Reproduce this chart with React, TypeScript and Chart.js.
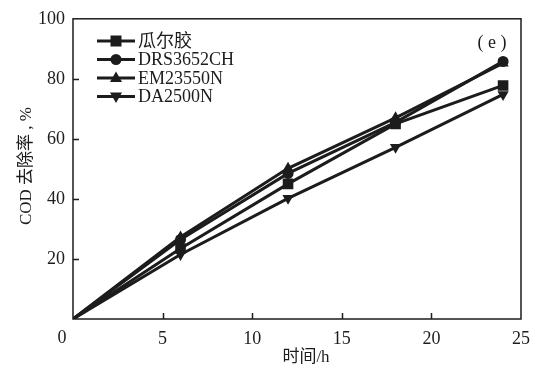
import React, { useEffect, useRef } from "react";
import { Chart, registerables } from "chart.js";

Chart.register(...registerables);

const hours = [0, 6, 12, 18, 24];
const guar = [0, 23.5, 45, 65, 77.8];
const drs = [0, 26.5, 48.5, 65.5, 85.8];
const em = [0, 27.3, 50.2, 67, 85.2];
const da = [0, 21.5, 40.2, 57.2, 74.8];
const seriesNames = ["瓜尔胶", "DRS3652CH", "EM23550N", "DA2500N"];
const xTicks = [0, 5, 10, 15, 20, 25];
const yTicks = [0, 20, 40, 60, 80, 100];

const INK = "#1c1c1c";
const SERIF = "'Liberation Serif', 'DejaVu Serif', 'Noto Sans CJK SC', serif";
const CJK = "'Liberation Serif', 'Noto Sans CJK SC', serif";

const styles = [
  { pointStyle: "rect", radius: 7.5, rotation: 0 },
  { pointStyle: "circle", radius: 5.5, rotation: 0 },
  { pointStyle: "triangle", radius: 6.5, rotation: 0 },
  { pointStyle: "triangle", radius: 6.5, rotation: 180 },
];

function drawMarker(ctx: CanvasRenderingContext2D, kind: number, x: number, y: number) {
  ctx.beginPath();
  if (kind === 0) {
    ctx.rect(x - 5.5, y - 5.5, 11, 11);
  } else if (kind === 1) {
    ctx.arc(x, y, 5.5, 0, Math.PI * 2);
  } else if (kind === 2) {
    ctx.moveTo(x, y - 6.5);
    ctx.lineTo(x + 6, y + 4);
    ctx.lineTo(x - 6, y + 4);
    ctx.closePath();
  } else {
    ctx.moveTo(x, y + 6.5);
    ctx.lineTo(x + 6, y - 4);
    ctx.lineTo(x - 6, y - 4);
    ctx.closePath();
  }
  ctx.fill();
}

const framePlugin = {
  id: "frame",
  beforeDatasetsDraw(chart: any) {
    const { ctx, chartArea, scales } = chart;
    const { left, right, top, bottom } = chartArea;
    ctx.save();
    ctx.strokeStyle = INK;
    ctx.lineWidth = 1.5;
    ctx.strokeRect(left, top, right - left, bottom - top);
    ctx.beginPath();
    xTicks.forEach((v) => {
      if (v === 0 || v === 25) return;
      const px = Math.round(scales.x.getPixelForValue(v)) + 0.5;
      ctx.moveTo(px, bottom);
      ctx.lineTo(px, bottom - 6);
    });
    yTicks.forEach((v) => {
      if (v === 0 || v === 100) return;
      const py = Math.round(scales.y.getPixelForValue(v)) + 0.5;
      ctx.moveTo(left, py);
      ctx.lineTo(left + 6, py);
    });
    ctx.stroke();
    ctx.restore();
  },
  afterDraw(chart: any) {
    const { ctx, chartArea, scales } = chart;
    const { left, right, top } = chartArea;
    ctx.save();
    ctx.fillStyle = INK;
    ctx.strokeStyle = INK;
    // origin label
    ctx.font = `18px ${SERIF}`;
    ctx.textAlign = "center";
    ctx.textBaseline = "middle";
    ctx.fillText("0", scales.x.getPixelForValue(0) - 11, 338);
    // axis titles
    ctx.font = `17px ${CJK}`;
    ctx.fillText("时间/h", (left + right) / 2 + 9, 358);
    ctx.save();
    ctx.translate(27, 166);
    ctx.rotate(-Math.PI / 2);
    ctx.fillText("COD 去除率 , %", 0, 0);
    ctx.restore();
    // panel label
    ctx.font = `18px ${SERIF}`;
    ctx.fillText("( e )", right - 29, top + 24);
    // legend
    const rows = [41, 59.5, 78, 96.5];
    ctx.textAlign = "left";
    ctx.font = `18px ${CJK}`;
    seriesNames.forEach((name, i) => {
      const y = rows[i];
      ctx.lineWidth = 3;
      ctx.beginPath();
      ctx.moveTo(97, y);
      ctx.lineTo(135, y);
      ctx.stroke();
      drawMarker(ctx, i, 116, y);
      ctx.fillText(name, 138, y + 1);
    });
    ctx.restore();
  },
};

export default function App() {
  const ref = useRef<HTMLCanvasElement>(null);
  useEffect(() => {
    if (!ref.current) return;
    const all = [guar, drs, em, da];
    const chart = new Chart(ref.current, {
      type: "line",
      data: {
        datasets: all.map((vals, i) => ({
          label: seriesNames[i],
          data: hours.map((h, j) => ({ x: h, y: vals[j] })),
          borderColor: INK,
          backgroundColor: INK,
          borderWidth: 3,
          pointStyle: styles[i].pointStyle as any,
          pointRadius: hours.map((h) => (h === 0 ? 0 : styles[i].radius)),
          pointRotation: styles[i].rotation,
          pointBorderWidth: 0,
          tension: 0,
        })),
      },
      options: {
        responsive: false,
        animation: false,
        layout: { padding: { top: 17, right: 12, left: 0, bottom: 0 } },
        plugins: { legend: { display: false }, tooltip: { enabled: false } },
        scales: {
          x: {
            type: "linear",
            min: 0,
            max: 25,
            afterFit: (s: any) => {
              s.height = 51;
            },
            afterBuildTicks: (s: any) => {
              s.ticks = xTicks.map((v) => ({ value: v }));
            },
            grid: { display: false, drawTicks: false },
            border: { display: false },
            ticks: {
              padding: 9,
              color: INK,
              font: { family: SERIF, size: 18 },
              maxRotation: 0,
              callback: (v: any) => (v === 0 ? "" : String(v)),
            },
          },
          y: {
            min: 0,
            max: 100,
            afterFit: (s: any) => {
              s.width = 73;
            },
            afterBuildTicks: (s: any) => {
              s.ticks = yTicks.map((v) => ({ value: v }));
            },
            grid: { display: false, drawTicks: false },
            border: { display: false },
            ticks: {
              padding: 8,
              color: INK,
              font: { family: SERIF, size: 18 },
              callback: (v: any) => (v === 0 ? "" : String(v)),
            },
          },
        },
      },
      plugins: [framePlugin],
    });
    return () => chart.destroy();
  }, []);
  return (
    <div style={{ position: "fixed", left: 0, top: 0, width: 539, height: 370, background: "#fff" }}>
      <canvas ref={ref} width={539} height={370} />
    </div>
  );
}
